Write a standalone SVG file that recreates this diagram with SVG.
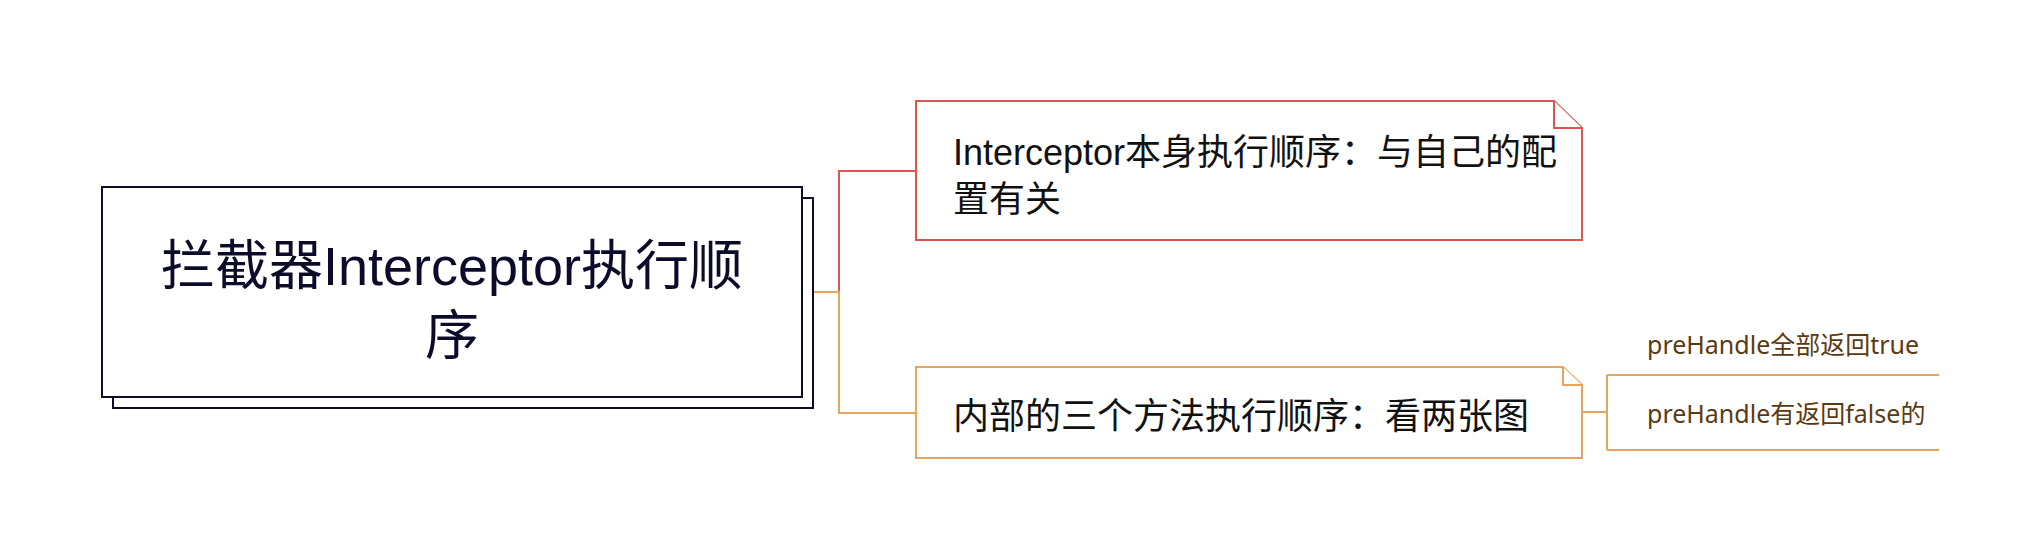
<svg xmlns="http://www.w3.org/2000/svg" width="2040" height="560" viewBox="0 0 2040 560">
<style>
.root{fill:#fff;stroke:#0c0c2a;stroke-width:2}
.rt{font-family:"Liberation Sans","Noto Sans CJK SC",sans-serif;font-size:54px;fill:#0c0c2a;text-anchor:middle}
.n1{fill:#fff;stroke:#d9574c;stroke-width:2}
.n2{fill:#fff;stroke:#e6a55c;stroke-width:2}
.nt{font-family:"Liberation Sans","Noto Sans CJK SC",sans-serif;font-size:36px;fill:#111}
.ct{font-family:"Noto Sans","Noto Sans CJK SC",sans-serif;font-size:25px;fill:#5b3a12}
.cr{fill:none;stroke:#d9574c;stroke-width:2}
.co{fill:none;stroke:#e6a55c;stroke-width:2}
</style>
<rect width="2040" height="560" fill="#fff"/>
<g id="connectors">
<path class="cr" d="M839,292 V171 H916"/>
<path class="co" d="M814,292 H839 V413 H916"/>
<path class="co" d="M1582,412 H1607"/>
<path class="co" d="M1607,375 V450"/>
<path class="co" d="M1607,375 H1939"/>
<path class="co" d="M1607,450 H1939"/>
</g>
<g id="root">
<rect class="root" x="113" y="198" width="700" height="210"/>
<rect class="root" x="102" y="187" width="700" height="210"/>
<text class="rt" x="452" y="285">拦截器Interceptor执行顺</text>
<text class="rt" x="452" y="355">序</text>
</g>
<g id="node1">
<path class="n1" d="M916,101 H1554 L1582,128 V240 H916 Z"/>
<path class="n1" d="M1554,101 V128 H1582"/>
<text class="nt" x="953" y="165">Interceptor本身执行顺序：与自己的配</text>
<text class="nt" x="953" y="212">置有关</text>
</g>
<g id="node2">
<path class="n2" d="M916,367 H1563 L1582,385 V458 H916 Z"/>
<path class="n2" d="M1563,367 V385 H1582"/>
<text class="nt" x="953" y="429">内部的三个方法执行顺序：看两张图</text>
</g>
<g id="child1">
<text class="ct" x="1647" y="354">preHandle全部返回true</text>
</g>
<g id="child2">
<text class="ct" x="1647" y="423">preHandle有返回false的</text>
</g>
</svg>
